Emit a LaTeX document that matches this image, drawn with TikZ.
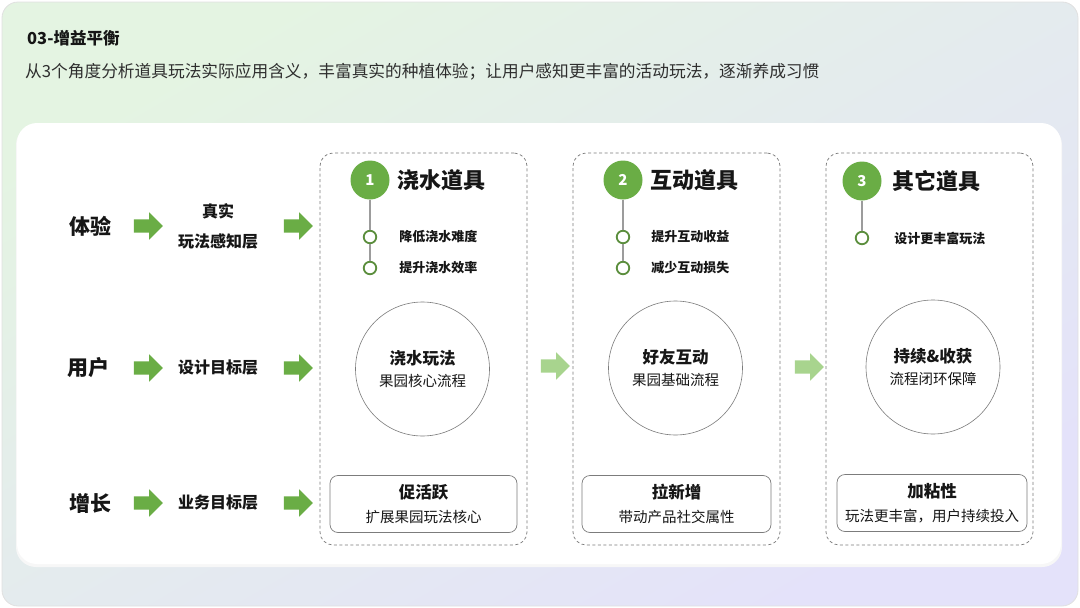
\documentclass[tikz,border=0pt]{standalone}
\usepackage{fontspec}
\setmainfont{Noto Sans CJK SC}
\usepackage{xcolor}
\definecolor{colorGreen}{HTML}{6AAD45}
\definecolor{colorGreenDark}{HTML}{5B8E3D}
\definecolor{colorGreenLight}{HTML}{A8D48E}
\definecolor{colorText}{HTML}{161616}
\definecolor{colorSub}{HTML}{2E2E2E}
\definecolor{colorStem}{HTML}{9C9C9C}
\definecolor{colorFrame}{HTML}{7C7C7C}
\definecolor{colorBgGreen}{HTML}{E4F4E2}
\definecolor{colorBgPurple}{HTML}{E4E2FA}
\usetikzlibrary{positioning, shapes.arrows}
\tikzset{
  plain/.style={inner sep=0pt, text=colorText},
  rowLabel/.style={plain, font=\fontsize{21}{24}\selectfont\bfseries},
  layerLabel/.style={plain, align=center, font=\fontsize{16}{30}\selectfont\bfseries},
  fatArrow/.style={single arrow, fill=colorGreen, draw=none, minimum height=29pt, inner xsep=0pt, inner ysep=6.5pt, single arrow head extend=7pt},
  softArrow/.style={fatArrow, fill=colorGreenLight},
  dashBox/.style={draw=colorFrame, dash pattern=on 3pt off 2.5pt, line width=0.7pt, rounded corners=13pt, minimum width=207pt, minimum height=392pt},
  numDot/.style={circle, fill=colorGreen, minimum size=39pt, inner sep=0pt, text=white, font=\fontsize{15}{18}\selectfont\bfseries},
  toolTitle/.style={plain, anchor=west, font=\fontsize{22}{26}\selectfont\bfseries},
  itemDot/.style={circle, draw=colorGreenDark, line width=1.8pt, fill=white, minimum size=12.5pt, inner sep=0pt},
  itemText/.style={plain, anchor=west, font=\fontsize{13}{16}\selectfont\bfseries},
  stem/.style={draw=colorStem, line width=1.2pt},
  bigCircle/.style={circle, draw=colorFrame, line width=0.6pt, minimum size=134pt, inner sep=0pt, align=center, text=colorText, font=\fontsize{14.5}{22}\selectfont},
  goalBox/.style={draw=colorFrame, line width=0.7pt, rounded corners=8pt, minimum width=187pt, minimum height=57pt, inner sep=0pt, align=center, text=colorText, font=\fontsize{14.5}{24}\selectfont}
}
\newcommand{\headline}[1]{{\fontsize{16.5}{20}\selectfont\bfseries #1}}

\begin{document}
\begin{tikzpicture}[x=1pt, y=-1pt]
\useasboundingbox (0,0) rectangle (1080,608);
\shadedraw[top color=colorBgGreen, middle color=white, bottom color=colorBgPurple, shading angle=30, draw=black!12, line width=0.8pt, rounded corners=16pt] (2,2) rectangle (1078,606);
\fill[black!3, rounded corners=20pt] (16,125) rectangle (1062,567);
\fill[white, rounded corners=20pt] (17,123) rectangle (1061,564);

\node[plain, anchor=west, font=\fontsize{16.5}{20}\selectfont\bfseries] (title) at (27,38) {03-增益平衡};
\node[plain, anchor=west, text=colorSub, font=\fontsize{16.7}{20}\selectfont] (subtitle) at (25,72) {从3个角度分析道具玩法实际应用含义，丰富真实的种植体验；让用户感知更丰富的活动玩法，逐渐养成习惯};

\node[rowLabel] (rowExp) at (90,226) {体验};
\node[rowLabel] (rowUser) at (88,368) {用户};
\node[rowLabel] (rowGrow) at (90,503) {增长};
\node[fatArrow] (arrExpA) at (145,226) {};
\node[fatArrow] (arrUserA) at (145,368) {};
\node[fatArrow] (arrGrowA) at (145,503) {};
\node[layerLabel] (layerExp) at (218,226) {真实\\玩法感知层};
\node[layerLabel] (layerUser) at (218,368) {设计目标层};
\node[layerLabel] (layerGrow) at (218,503) {业务目标层};
\node[fatArrow] (arrExpB) at (295,226) {};
\node[fatArrow] (arrUserB) at (295,368) {};
\node[fatArrow] (arrGrowB) at (295,503) {};

\node[dashBox] (colWater) at (423.5,349) {};
\node[numDot] (numWater) at (370,180) {1};
\node[toolTitle, right=8pt of numWater] (titleWater) {浇水道具};
\node[itemDot] (dotWaterA) at (370,237) {};
\node[itemDot] (dotWaterB) at (370,268) {};
\draw[stem] (numWater) -- (dotWaterA) -- (dotWaterB);
\node[itemText, right=22pt of dotWaterA] (itemWaterA) {降低浇水难度};
\node[itemText, right=22pt of dotWaterB] (itemWaterB) {提升浇水效率};
\node[bigCircle] (circWater) at (422.5,369) {\headline{浇水玩法}\\果园核心流程};
\node[goalBox] (goalWater) at (423.5,504) {\headline{促活跃}\\扩展果园玩法核心};

\node[softArrow] (arrWaterSocial) at (552,366) {};

\node[dashBox] (colSocial) at (676.5,349) {};
\node[numDot] (numSocial) at (623,180) {2};
\node[toolTitle, right=8pt of numSocial] (titleSocial) {互动道具};
\node[itemDot] (dotSocialA) at (623,237) {};
\node[itemDot] (dotSocialB) at (623,268) {};
\draw[stem] (numSocial) -- (dotSocialA) -- (dotSocialB);
\node[itemText, right=21pt of dotSocialA] (itemSocialA) {提升互动收益};
\node[itemText, right=21pt of dotSocialB] (itemSocialB) {减少互动损失};
\node[bigCircle] (circSocial) at (675.5,368) {\headline{好友互动}\\果园基础流程};
\node[goalBox, minimum width=189pt] (goalSocial) at (676.5,504) {\headline{拉新增}\\带动产品社交属性};

\node[softArrow] (arrSocialOther) at (806,367) {};

\node[dashBox] (colOther) at (929.5,349) {};
\node[numDot] (numOther) at (862,181) {3};
\node[toolTitle, right=11pt of numOther] (titleOther) {其它道具};
\node[itemDot] (dotOtherA) at (862,238) {};
\draw[stem] (numOther) -- (dotOtherA);
\node[itemText, right=25pt of dotOtherA] (itemOtherA) {设计更丰富玩法};
\node[bigCircle] (circOther) at (933,367) {\headline{持续\&收获}\\流程闭环保障};
\node[goalBox, minimum width=190pt] (goalOther) at (932,503) {\headline{加粘性}\\玩法更丰富，用户持续投入};
\end{tikzpicture}
\end{document}
